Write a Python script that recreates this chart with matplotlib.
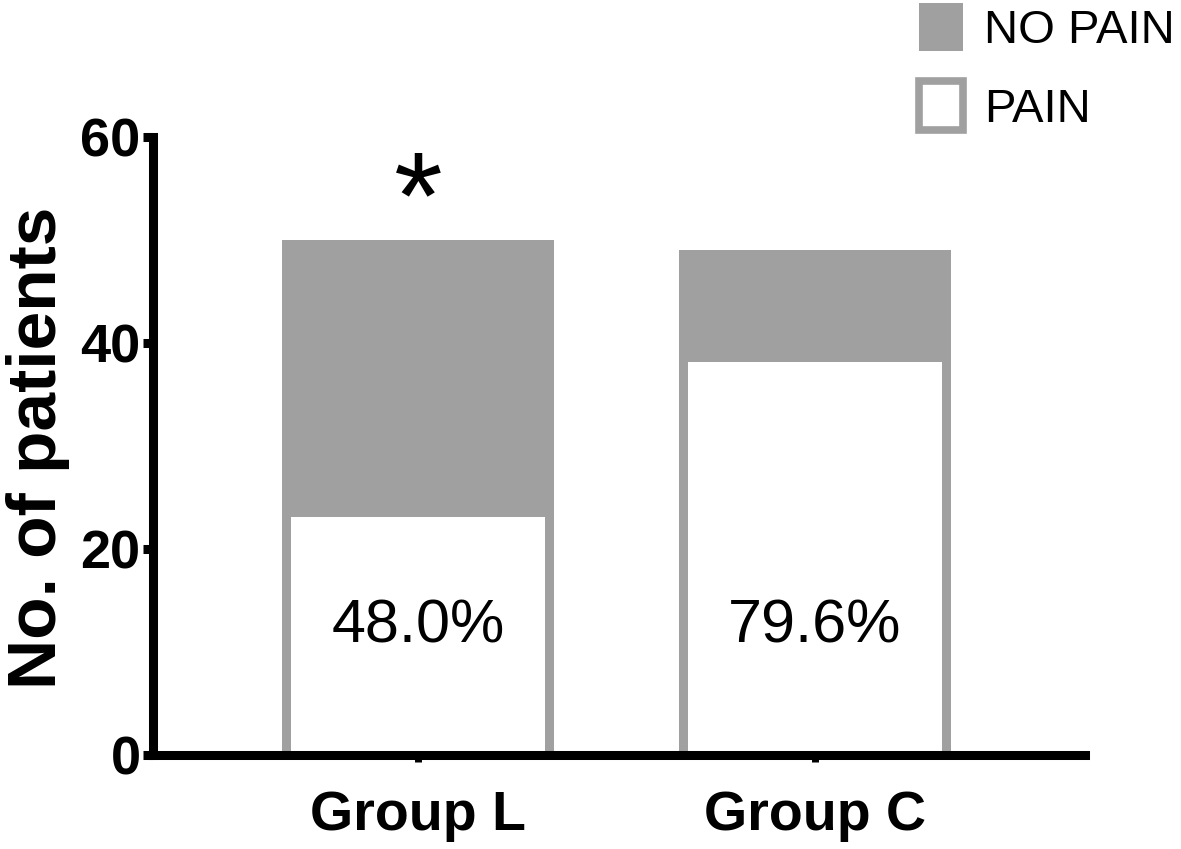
import matplotlib
matplotlib.use("Agg")
import matplotlib.pyplot as plt
from matplotlib.patches import Patch

plt.rcParams["font.family"] = ["Liberation Sans", "DejaVu Sans"]

groups = ["Group L", "Group C"]
pain = [24, 39]
no_pain = [26, 10]
pain_pct = ["48.0%", "79.6%"]
signif = ["*", ""]

GRAY = "#a0a0a0"
BORDER_PX = 9  # gray frame around the white PAIN bars

fig = plt.figure(figsize=(11.81, 8.49), dpi=100)
ax = fig.add_axes([153 / 1181, 94 / 849, 932 / 1181, 618 / 849])
ax.set_xlim(-0.667, 1.68)
ax.set_ylim(0, 60)

x = list(range(len(groups)))
width = 0.685

# border thickness converted to data units
x0, y0 = ax.transData.transform((0, 0))
x1, y1 = ax.transData.transform((1, 1))
bx = BORDER_PX / (x1 - x0)
by = BORDER_PX / (y1 - y0)

ax.bar(x, pain, width=width, color=GRAY, linewidth=0, zorder=2)
ax.bar(x, [p - by for p in pain], width=width - 2 * bx, color="white",
       linewidth=0, zorder=2)
ax.bar(x, no_pain, bottom=pain, width=width, color=GRAY, linewidth=0, zorder=2)

for xi, txt in zip(x, pain_pct):
    ax.text(xi, 12.4, txt, ha="center", va="center", fontsize=44, zorder=3)

for xi, s in zip(x, signif):
    if s:
        ax.text(xi, 50.2, s, ha="center", va="baseline", fontsize=90, zorder=3)

ax.set_yticks([0, 20, 40, 60])
ax.set_xticks(x)
ax.set_xticklabels(groups, fontsize=40, fontweight="bold")
ax.tick_params(axis="y", labelsize=39, width=6.5, length=7, pad=2)
for lbl in ax.get_yticklabels():
    lbl.set_fontweight("bold")
ax.tick_params(axis="x", width=5, length=5, pad=20)

for side in ["top", "right"]:
    ax.spines[side].set_visible(False)
for side in ["left", "bottom"]:
    ax.spines[side].set_linewidth(6.5)
    ax.spines[side].set_zorder(4)

fig.text(38 / 1181, 1 - 448 / 849, "No. of patients", rotation=90,
         ha="center", va="center", fontsize=50, fontweight="bold")

handles = [
    Patch(facecolor=GRAY, edgecolor=GRAY, linewidth=0),
    Patch(facecolor="white", edgecolor=GRAY, linewidth=5.5),
]
fig.legend(handles, ["NO PAIN", "PAIN"], loc="upper left",
           bbox_to_anchor=(919 / 1181, 1 - 3 / 849), frameon=False,
           fontsize=34, handlelength=0.93, handleheight=1.2,
           handletextpad=0.45, labelspacing=0.6, borderpad=0,
           borderaxespad=0)

fig.savefig("out.png", dpi=100)
